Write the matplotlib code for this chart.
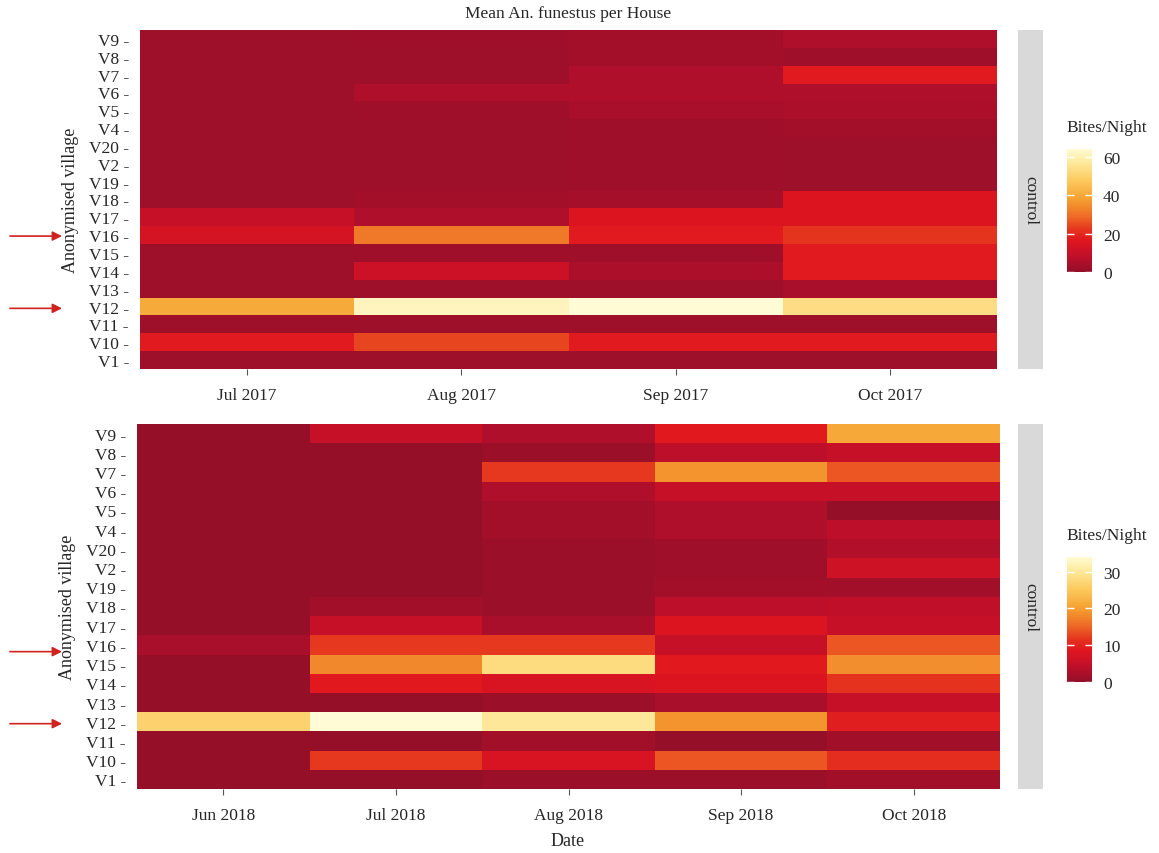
import numpy as np
import matplotlib
matplotlib.use("Agg")
import matplotlib.pyplot as plt
from matplotlib.colors import LinearSegmentedColormap, Normalize

plt.rcParams['font.family'] = ['Liberation Serif', 'DejaVu Serif']

villages = ["V9", "V8", "V7", "V6", "V5", "V4", "V20", "V2", "V19", "V18",
            "V17", "V16", "V15", "V14", "V13", "V12", "V11", "V10", "V1"]

months_2017 = ["Jul 2017", "Aug 2017", "Sep 2017", "Oct 2017"]
months_2018 = ["Jun 2018", "Jul 2018", "Aug 2018", "Sep 2018", "Oct 2018"]

# rows follow `villages`, columns follow months
bites_2017 = [
    [2, 2.5, 3, 5],
    [2, 2, 3, 2.5],
    [2, 2, 5, 17],
    [2, 5, 5, 5],
    [2, 2.5, 4, 4.5],
    [2, 2, 2.5, 3],
    [2, 2, 2.5, 2],
    [2, 2, 2.5, 2],
    [2, 2, 2.5, 2],
    [2, 3, 3.5, 15],
    [9.5, 5, 15, 15],
    [13, 31, 17, 22],
    [2, 2.5, 2.5, 17],
    [2, 11, 4.5, 17],
    [2, 2, 2, 4],
    [40, 61, 64, 53],
    [2, 2, 2, 2],
    [17, 24, 17, 17],
    [2, 2, 2, 2],
]

bites_2018 = [
    [0.5, 5, 2.7, 9, 21],
    [0.5, 0.5, 1, 4, 5],
    [0.5, 0.5, 12, 19, 14],
    [0.5, 0.5, 2.7, 5, 5],
    [0.5, 0.5, 1.7, 2.7, 0.5],
    [0.5, 0.5, 1.7, 2.7, 4],
    [0.5, 0.5, 1, 1.2, 3],
    [0.5, 0.5, 1, 1.2, 6],
    [0.5, 0.5, 1, 1.7, 1.5],
    [0.5, 1.5, 1, 4, 4.5],
    [0.5, 5, 2.2, 8, 5],
    [2.2, 12, 12, 5, 14],
    [0.5, 18, 28, 9, 18.5],
    [0.5, 9, 7.5, 8, 11.5],
    [0.5, 0.5, 1, 2.2, 5],
    [26.5, 34, 30, 19, 9.5],
    [0.5, 0.5, 1.5, 0.5, 1.5],
    [0.5, 12, 7.5, 14, 11],
    [0.5, 0.5, 1, 1, 1.5],
]

cbar_ticks_2017 = [0, 20, 40, 60]
cbar_ticks_2018 = [0, 10, 20, 30]
arrow_rows = ["V16", "V12"]

cmap = LinearSegmentedColormap.from_list("bites", [
    (0.0, '#920F29'), (0.12, '#BE0F2A'), (0.25, '#E0151F'), (0.35, '#E5361E'),
    (0.45, '#EE6A26'), (0.6, '#F5A332'), (0.75, '#FDCB60'), (0.9, '#FEEBA0'),
    (1.0, '#FFFBD4')])

W, H = 1159, 854
fig = plt.figure(figsize=(W / 100, H / 100), dpi=100)


def rect(l, t, r, b):
    return [l / W, (H - b) / H, (r - l) / W, (b - t) / H]


TXT = '#262626'


def panel(ax_rect, strip_rect, cb_rect, data, months, ticks, arrow_offsets):
    arr = np.array(data, dtype=float)
    ax = fig.add_axes(rect(*ax_rect))
    norm = Normalize(vmin=0, vmax=arr.max())
    nx, ny = arr.shape[1], arr.shape[0]
    xe = np.arange(nx + 1) - 0.5
    ye = np.arange(ny + 1) - 0.5
    mesh = ax.pcolormesh(xe, ye, arr, cmap=cmap, norm=norm, shading='flat')
    ax.set_xlim(-0.5, nx - 0.5)
    ax.set_ylim(ny - 0.5, -0.5)
    ax.set_xticks(np.arange(nx))
    ax.set_xticklabels(months, fontsize=12.5, color=TXT)
    ax.set_yticks(np.arange(ny))
    ax.set_yticklabels([v + " -" for v in villages], fontsize=12.5, color=TXT)
    ax.tick_params(axis='x', length=4, width=0.8, color='#555555', pad=9)
    ax.tick_params(axis='y', length=0, pad=8)
    for s in ax.spines.values():
        s.set_visible(False)
    ax.set_ylabel("Anonymised village", fontsize=13, color=TXT, labelpad=7)

    # facet strip
    sax = fig.add_axes(rect(*strip_rect))
    sax.set_facecolor('#D9D9D9')
    sax.set_xticks([]); sax.set_yticks([])
    for s in sax.spines.values():
        s.set_visible(False)
    sax.text(0.5, 0.5, "control", rotation=270, ha='center', va='center',
             fontsize=12.5, color=TXT, transform=sax.transAxes)

    # colorbar
    cax = fig.add_axes(rect(*cb_rect))
    cb = fig.colorbar(mesh, cax=cax, ticks=ticks)
    cb.outline.set_visible(False)
    cax.tick_params(direction='in', length=5, width=1, color='white',
                    labelcolor=TXT, labelsize=12.5, pad=8, left=True)
    fig.text((cb_rect[0] - 1) / W, 1 - (cb_rect[1] - 22) / H, "Bites/Night",
             fontsize=12.5, color=TXT, ha='left', va='center')

    # arrows pointing to highlighted villages
    for name, off in zip(arrow_rows, arrow_offsets):
        yi = villages.index(name) + off
        ax.annotate("", xy=(62, yi), xytext=(10, yi),
                    xycoords=('figure pixels', 'data'),
                    textcoords=('figure pixels', 'data'),
                    arrowprops=dict(arrowstyle='-|>', color='#D0221F', lw=1.2,
                                    mutation_scale=14, shrinkA=0, shrinkB=0),
                    annotation_clip=False)
    return ax


ax1 = panel((140, 31, 997, 370), (1018, 31, 1043, 370), (1067, 150, 1092, 273),
            bites_2017, months_2017, cbar_ticks_2017, [0.05, 0.1])
ax2 = panel((137, 425, 1000, 790), (1018, 425, 1043, 790), (1067, 558, 1092, 683),
            bites_2018, months_2018, cbar_ticks_2018, [0.35, 0.1])

fig.text(568 / W, 1 - 14 / H, "Mean An. funestus per House", fontsize=12.5,
         color=TXT, ha='center', va='center')
fig.text(568 / W, 1 - 842 / H, "Date", fontsize=13, color=TXT,
         ha='center', va='center')

fig.savefig("out.png", dpi=100)
